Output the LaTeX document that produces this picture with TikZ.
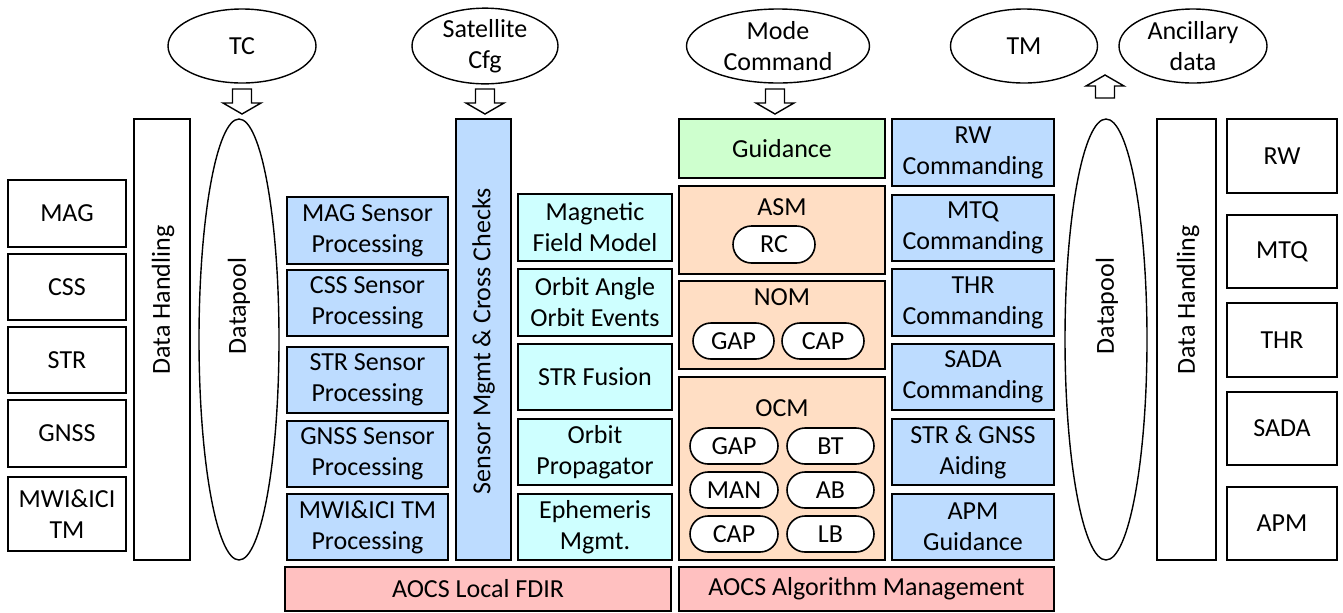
\documentclass[tikz,border=0pt]{standalone}
\usepackage{fontspec}
\setmainfont{Carlito}
\usetikzlibrary{shapes.geometric, shapes.misc}
\definecolor{ProcBlue}{RGB}{189, 220, 255}
\definecolor{ModelCyan}{RGB}{206, 255, 255}
\definecolor{GuidGreen}{RGB}{206, 255, 206}
\definecolor{ModeOrange}{RGB}{255, 222, 196}
\definecolor{FdirRed}{RGB}{255, 192, 192}

\tikzset{
  every node/.style={font=\fontsize{13}{15.5}\selectfont, inner sep=0pt, align=center},
  sz/.style 2 args={minimum width=#1*0.5pt, minimum height=#2*0.5pt},
  blk/.style={draw, line width=0.8pt},
  oval/.style={draw, ellipse, line width=0.7pt},
  pill/.style={draw, rounded rectangle, fill=white, line width=0.8pt},
  downarr/.pic={\draw[line width=0.7pt, fill=white] (-9.5,0) -- (9.5,0) -- (9.5,14) -- (19,14) -- (0,25) -- (-19,14) -- (-9.5,14) -- cycle;},
  uparr/.pic={\draw[line width=0.7pt, fill=white] (0,0) -- (19,11) -- (9.5,11) -- (9.5,23) -- (-9.5,23) -- (-9.5,11) -- (-19,11) -- cycle;}
}

\begin{document}
\begin{tikzpicture}[x=0.5pt, y=-0.5pt]
  \useasboundingbox (0,0) rectangle (1343,612);

  % inputs / outputs
  \node[oval, sz={148}{74}] (tc) at (242,46) {TC};
  \node[oval, sz={146}{74}] (satcfg) at (485,46) {Satellite\\Cfg};
  \node[oval, sz={183}{74}] (modecmd) at (778,46) {Mode\\Command};
  \node[oval, sz={147}{74}] (tm) at (1024,46) {TM};
  \node[oval, sz={148}{74}] (ancil) at (1193,46) {Ancillary\\data};
  \pic at (242,89) {downarr};
  \pic at (485,89) {downarr};
  \pic at (775,89) {downarr};
  \pic at (1105,75) {uparr};

  % sensors
  \node[blk, sz={118}{67}] (mag) at (67,213.5) {MAG};
  \node[blk, sz={118}{66}] (css) at (67,287) {CSS};
  \node[blk, sz={118}{66}] (str) at (67,360) {STR};
  \node[blk, sz={118}{67}] (gnss) at (67,433.5) {GNSS};
  \node[blk, sz={118}{74}] (mwi) at (67,514) {MWI\&ICI\\TM};

  % data handling and datapool, left
  \node[blk, sz={56}{441}] (dhleft) at (162,339.5) {};
  \node[rotate=90] (dhlefttxt) at (163,300) {Data Handling};
  \node[oval, sz={80}{441}] (dpleft) at (239,339.5) {};
  \node[rotate=90] (dplefttxt) at (239,306) {Datapool};

  % sensor processing
  \node[blk, fill=ProcBlue, sz={161}{67}] (magproc) at (367.5,230.5) {MAG Sensor\\Processing};
  \node[blk, fill=ProcBlue, sz={161}{66}] (cssproc) at (367.5,303) {CSS Sensor\\Processing};
  \node[blk, fill=ProcBlue, sz={161}{66}] (strproc) at (367.5,380) {STR Sensor\\Processing};
  \node[blk, fill=ProcBlue, sz={161}{66}] (gnssproc) at (367.5,454) {GNSS Sensor\\Processing};
  \node[blk, fill=ProcBlue, sz={161}{66}] (mwiproc) at (367.5,527) {MWI\&ICI TM\\Processing};
  \node[blk, fill=ProcBlue, sz={55}{441}] (sensmgmt) at (483.5,339.5) {};
  \node[rotate=90] (sensmgmttxt) at (483.5,341) {Sensor Mgmt \& Cross Checks};

  % models
  \node[blk, fill=ModelCyan, sz={154}{67}] (magmodel) at (595,227.5) {Magnetic\\Field Model};
  \node[blk, fill=ModelCyan, sz={154}{67}] (orbangle) at (595,302.5) {Orbit Angle\\Orbit Events};
  \node[blk, fill=ModelCyan, sz={154}{66}] (strfusion) at (595,377) {STR Fusion};
  \node[blk, fill=ModelCyan, sz={154}{66}] (orbprop) at (595,452) {Orbit\\Propagator};
  \node[blk, fill=ModelCyan, sz={154}{66}] (ephem) at (595,527) {Ephemeris\\Mgmt.};

  % guidance and modes
  \node[blk, fill=GuidGreen, sz={206}{59}] (guid) at (782,148.5) {Guidance};
  \node[blk, fill=ModeOrange, sz={206}{88}] (asm) at (782,230) {};
  \node (asmtxt) at (782,207) {ASM};
  \node[pill, sz={82}{37}] (asmrc) at (774,244.5) {RC};
  \node[blk, fill=ModeOrange, sz={206}{88}] (nom) at (782,325) {};
  \node (nomtxt) at (782,297) {NOM};
  \node[pill, sz={81}{36}] (nomgap) at (733.5,341) {GAP};
  \node[pill, sz={82}{36}] (nomcap) at (823,341) {CAP};
  \node[blk, fill=ModeOrange, sz={206}{183}] (ocm) at (782,468.5) {};
  \node (ocmtxt) at (782,408) {OCM};
  \node[pill, sz={88}{36}] (ocmgap) at (734,446) {GAP};
  \node[pill, sz={87}{36}] (ocmbt) at (830.5,446) {BT};
  \node[pill, sz={88}{36}] (ocmman) at (734,490) {MAN};
  \node[pill, sz={87}{36}] (ocmab) at (830.5,490) {AB};
  \node[pill, sz={88}{36}] (ocmcap) at (734,534) {CAP};
  \node[pill, sz={87}{36}] (ocmlb) at (830.5,534) {LB};

  % actuator commanding
  \node[blk, fill=ProcBlue, sz={162}{67}] (rwcmd) at (973,152.5) {RW\\Commanding};
  \node[blk, fill=ProcBlue, sz={162}{66}] (mtqcmd) at (973,228) {MTQ\\Commanding};
  \node[blk, fill=ProcBlue, sz={162}{67}] (thrcmd) at (973,302.5) {THR\\Commanding};
  \node[blk, fill=ProcBlue, sz={162}{66}] (sadacmd) at (973,377) {SADA\\Commanding};
  \node[blk, fill=ProcBlue, sz={162}{66}] (aiding) at (973,452) {STR \& GNSS\\Aiding};
  \node[blk, fill=ProcBlue, sz={162}{66}] (apmguid) at (973,527) {APM\\Guidance};

  % datapool and data handling, right
  \node[oval, sz={82}{441}] (dpright) at (1106,339.5) {};
  \node[rotate=90] (dprighttxt) at (1107,306) {Datapool};
  \node[blk, sz={59}{441}] (dhright) at (1186.5,339.5) {};
  \node[rotate=90] (dhrighttxt) at (1188,300) {Data Handling};

  % actuators
  \node[blk, sz={110}{74}] (rw) at (1282,156) {RW};
  \node[blk, sz={110}{73}] (mtq) at (1282,251.5) {MTQ};
  \node[blk, sz={110}{74}] (thr) at (1282,340) {THR};
  \node[blk, sz={110}{73}] (sada) at (1282,428.5) {SADA};
  \node[blk, sz={110}{73}] (apm) at (1282,523.5) {APM};

  % management
  \node[blk, fill=FdirRed, sz={386}{44}] (fdir) at (478,589) {AOCS Local FDIR};
  \node[blk, fill=FdirRed, sz={375}{44}] (algomgmt) at (866.5,589) {AOCS Algorithm Management};
\end{tikzpicture}
\end{document}
